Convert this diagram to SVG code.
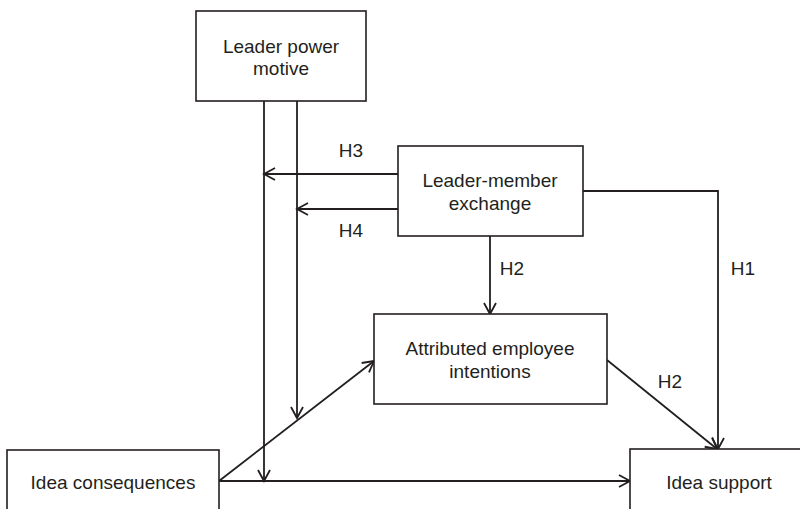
<svg xmlns="http://www.w3.org/2000/svg" width="800" height="509" viewBox="0 0 800 509">
<style>
.box{fill:#fff;stroke:#231f20;stroke-width:1.6}
.t{font-family:"Liberation Sans",Arial,sans-serif;font-size:19px;fill:#231f20;text-anchor:middle}
.c{fill:none;stroke:#231f20;stroke-width:1.8}
.a{marker-end:url(#arr)}
</style>
<defs>
<marker id="arr" markerUnits="userSpaceOnUse" markerWidth="16" markerHeight="16" viewBox="0 0 16 16" refX="14" refY="8" orient="auto">
<path d="M3,2 L14,8 L3,14" fill="none" stroke="#231f20" stroke-width="1.8"/>
</marker>
</defs>
<rect width="800" height="509" fill="#fff"/>
<g id="connectors">
<path class="c a" d="M264,101 V481"/>
<path class="c a" d="M297,101 V418"/>
<path class="c a" d="M398,174 H264"/>
<path class="c a" d="M398,209 H297"/>
<path class="c a" d="M490,236 V314"/>
<path class="c a" d="M583,191 H718 V449"/>
<path class="c a" d="M607,360 L717,449"/>
<path class="c a" d="M219,481 H630"/>
<path class="c a" d="M219,481 L374,361"/>
<text class="t" x="351" y="157">H3</text>
<text class="t" x="351" y="237">H4</text>
<text class="t" x="512" y="275">H2</text>
<text class="t" x="743" y="275">H1</text>
<text class="t" x="670" y="388">H2</text>
</g>
<g id="leader-power-motive">
<rect class="box" x="196" y="11" width="170" height="90"/>
<text class="t" x="281" y="53">Leader power</text>
<text class="t" x="281" y="75">motive</text>
</g>
<g id="leader-member-exchange">
<rect class="box" x="398" y="146" width="185" height="90"/>
<text class="t" x="490" y="187">Leader-member</text>
<text class="t" x="490" y="210">exchange</text>
</g>
<g id="attributed-employee-intentions">
<rect class="box" x="374" y="314" width="233" height="90"/>
<text class="t" x="490" y="355">Attributed employee</text>
<text class="t" x="490" y="378">intentions</text>
</g>
<g id="idea-consequences">
<rect class="box" x="7" y="450" width="212" height="80"/>
<text class="t" x="113" y="489">Idea consequences</text>
</g>
<g id="idea-support">
<rect class="box" x="630" y="449" width="200" height="80"/>
<text class="t" x="719" y="489">Idea support</text>
</g>
</svg>
